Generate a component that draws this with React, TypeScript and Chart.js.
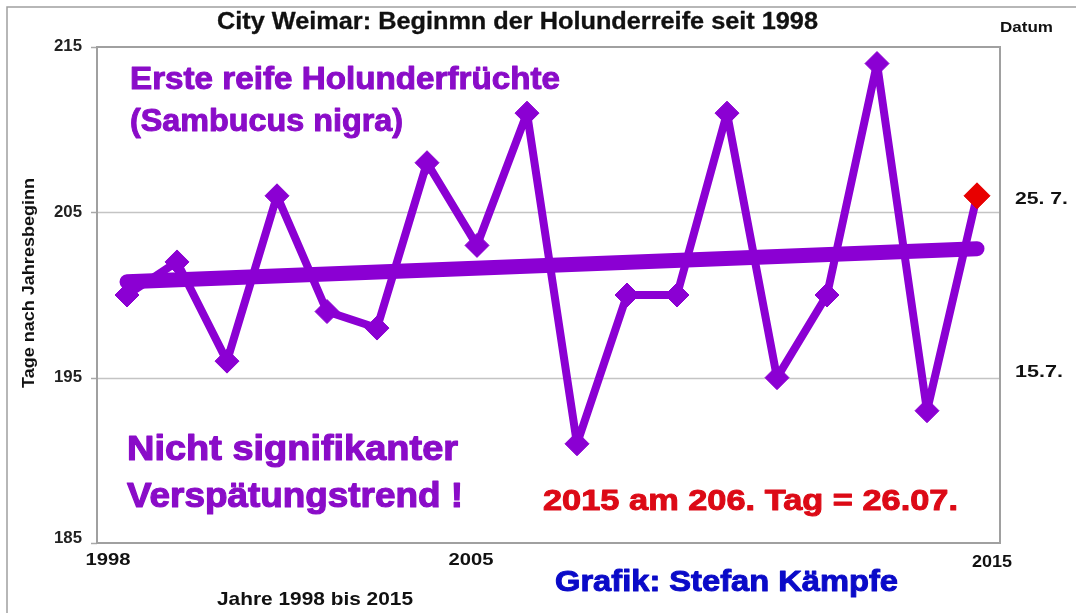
import React, { useEffect, useRef } from "react";
import { Chart, registerables } from "chart.js";

Chart.register(...registerables);

const years = [1998, 1999, 2000, 2001, 2002, 2003, 2004, 2005, 2006, 2007, 2008, 2009, 2010, 2011, 2012, 2013, 2014, 2015];
const days = [200, 202, 196, 206, 199, 198, 208, 203, 211, 191, 200, 200, 211, 195, 200, 214, 193, 206];
const trendYears = [1998, 2015];
const trendValues = [200.8, 202.8];
const highlightYear = 2015;
const highlightValue = 206;
const yTickValues = [215, 205, 195, 185];
const gridValues = [205, 195];
const xTickLabels = ["1998", "2005", "2015"];
const rightLabels = ["25. 7.", "15.7."];
const rightLabelValues = [205.8, 195.3];

const PURPLE = "#8b00d3";
const TEXT_PURPLE = "#8a0cc8";
const RED = "#e80000";
const TEXT_RED = "#dc0a16";
const BLUE = "#0a0ac8";
const FONT = "'Liberation Sans', Arial, sans-serif";

function fitText(
  ctx: CanvasRenderingContext2D,
  text: string,
  x: number,
  y: number,
  size: number,
  width: number,
  color: string,
  align: "left" | "right" | "center" = "left",
  heavy = 0
) {
  ctx.save();
  ctx.font = `bold ${size}px ${FONT}`;
  ctx.fillStyle = color;
  ctx.strokeStyle = color;
  ctx.textBaseline = "middle";
  ctx.textAlign = "left";
  const w = ctx.measureText(text).width;
  const sx = width / w;
  let left = x;
  if (align === "right") left = x - width;
  if (align === "center") left = x - width / 2;
  ctx.translate(left, y);
  ctx.scale(sx, 1);
  ctx.fillText(text, 0, 0);
  if (heavy > 0) {
    ctx.lineWidth = heavy;
    ctx.lineJoin = "round";
    ctx.strokeText(text, 0, 0);
  }
  ctx.restore();
}

const decorPlugin = {
  id: "decor",
  beforeDatasetsDraw(chart: any) {
    const { ctx, chartArea, scales } = chart;
    const yS = scales.y;
    ctx.save();
    ctx.strokeStyle = "#c4c4c4";
    ctx.lineWidth = 1.5;
    gridValues.forEach((v) => {
      const py = Math.round(yS.getPixelForValue(v)) + 0.5;
      ctx.beginPath();
      ctx.moveTo(chartArea.left, py);
      ctx.lineTo(chartArea.right, py);
      ctx.stroke();
    });
    ctx.strokeStyle = "#a8a8a8";
    yTickValues.forEach((v) => {
      const py = Math.round(yS.getPixelForValue(v)) + 0.5;
      ctx.beginPath();
      ctx.moveTo(chartArea.left - 6, py);
      ctx.lineTo(chartArea.left, py);
      ctx.stroke();
    });
    ctx.strokeStyle = "#a0a0a0";
    ctx.lineWidth = 2;
    ctx.strokeRect(chartArea.left, chartArea.top, chartArea.right - chartArea.left, chartArea.bottom - chartArea.top);
    ctx.strokeStyle = "#a0a0a0";
    ctx.lineWidth = 1.5;
    ctx.beginPath();
    ctx.moveTo(7, 613);
    ctx.lineTo(7, 7);
    ctx.lineTo(1076, 7);
    ctx.stroke();
    ctx.restore();
  },
  afterDraw(chart: any) {
    const { ctx, scales } = chart;
    const yS = scales.y;
    fitText(ctx, "City Weimar: Beginmn der Holunderreife seit 1998", 217, 23, 23, 601, "#111", "left", 0.3);
    fitText(ctx, "Datum", 1000, 28, 14, 53, "#111");
    yTickValues.forEach((v) => {
      fitText(ctx, String(v), 82, yS.getPixelForValue(v) - (v === 185 ? 4 : 0), 16, 28, "#222", "right");
    });
    fitText(ctx, xTickLabels[0], 108, 560, 17, 45, "#111", "center");
    fitText(ctx, xTickLabels[1], 471, 560, 17, 45, "#111", "center");
    fitText(ctx, xTickLabels[2], 992, 563, 16, 40, "#111", "center");
    fitText(ctx, "Jahre 1998 bis 2015", 217, 600, 19, 196, "#111");
    ctx.save();
    ctx.translate(29, 283);
    ctx.rotate(-Math.PI / 2);
    fitText(ctx, "Tage nach Jahresbeginn", 0, 0, 17, 210, "#111", "center");
    ctx.restore();
    fitText(ctx, rightLabels[0], 1015, yS.getPixelForValue(rightLabelValues[0]), 17, 53, "#111");
    fitText(ctx, rightLabels[1], 1015, yS.getPixelForValue(rightLabelValues[1]), 17, 48, "#111");
    fitText(ctx, "Erste reife Holunderfrüchte", 130, 80, 31, 430, TEXT_PURPLE, "left", 1);
    fitText(ctx, "(Sambucus nigra)", 130, 122, 31, 273, TEXT_PURPLE, "left", 1);
    fitText(ctx, "Nicht signifikanter", 127, 450, 35, 331, TEXT_PURPLE, "left", 1.2);
    fitText(ctx, "Verspätungstrend !", 127, 497, 35, 336, TEXT_PURPLE, "left", 1.2);
    fitText(ctx, "2015 am 206. Tag = 26.07.", 543, 502, 30, 415, TEXT_RED, "left", 1);
    fitText(ctx, "Grafik: Stefan Kämpfe", 555, 583, 30, 343, BLUE, "left", 1);
  },
};

export default function App() {
  const ref = useRef<HTMLCanvasElement | null>(null);
  useEffect(() => {
    if (!ref.current) return;
    const chart = new Chart(ref.current, {
      type: "line",
      data: {
        datasets: [
          {
            label: "Highlight",
            data: [{ x: highlightYear, y: highlightValue }],
            showLine: false,
            pointStyle: "rectRot",
            pointRadius: 13,
            pointBackgroundColor: RED,
            pointBorderColor: RED,
            pointBorderWidth: 1,
            order: 0,
          },
          {
            label: "Trend",
            data: trendYears.map((x, i) => ({ x, y: trendValues[i] })),
            borderColor: PURPLE,
            borderWidth: 15,
            borderCapStyle: "round",
            pointRadius: 0,
            order: 1,
          },
          {
            label: "Holunderreife",
            data: years.map((x, i) => ({ x, y: days[i] })),
            borderColor: PURPLE,
            borderWidth: 8,
            borderJoinStyle: "round",
            pointStyle: "rectRot",
            pointRadius: 12,
            pointBackgroundColor: PURPLE,
            pointBorderColor: PURPLE,
            pointBorderWidth: 1,
            order: 2,
          },
        ],
      },
      options: {
        animation: false,
        responsive: true,
        maintainAspectRatio: false,
        layout: { padding: { left: 97, right: 76, top: 47, bottom: 70 } },
        plugins: { legend: { display: false }, tooltip: { enabled: false }, title: { display: false } },
        scales: {
          x: { type: "linear", min: 1997.4, max: 2015.46, display: false },
          y: { type: "linear", min: 185, max: 215, display: false },
        },
      },
      plugins: [decorPlugin],
    } as any);
    return () => chart.destroy();
  }, []);
  return (
    <div style={{ position: "fixed", left: 0, top: 0, width: 1076, height: 613, background: "#fff" }}>
      <canvas ref={ref} />
    </div>
  );
}
